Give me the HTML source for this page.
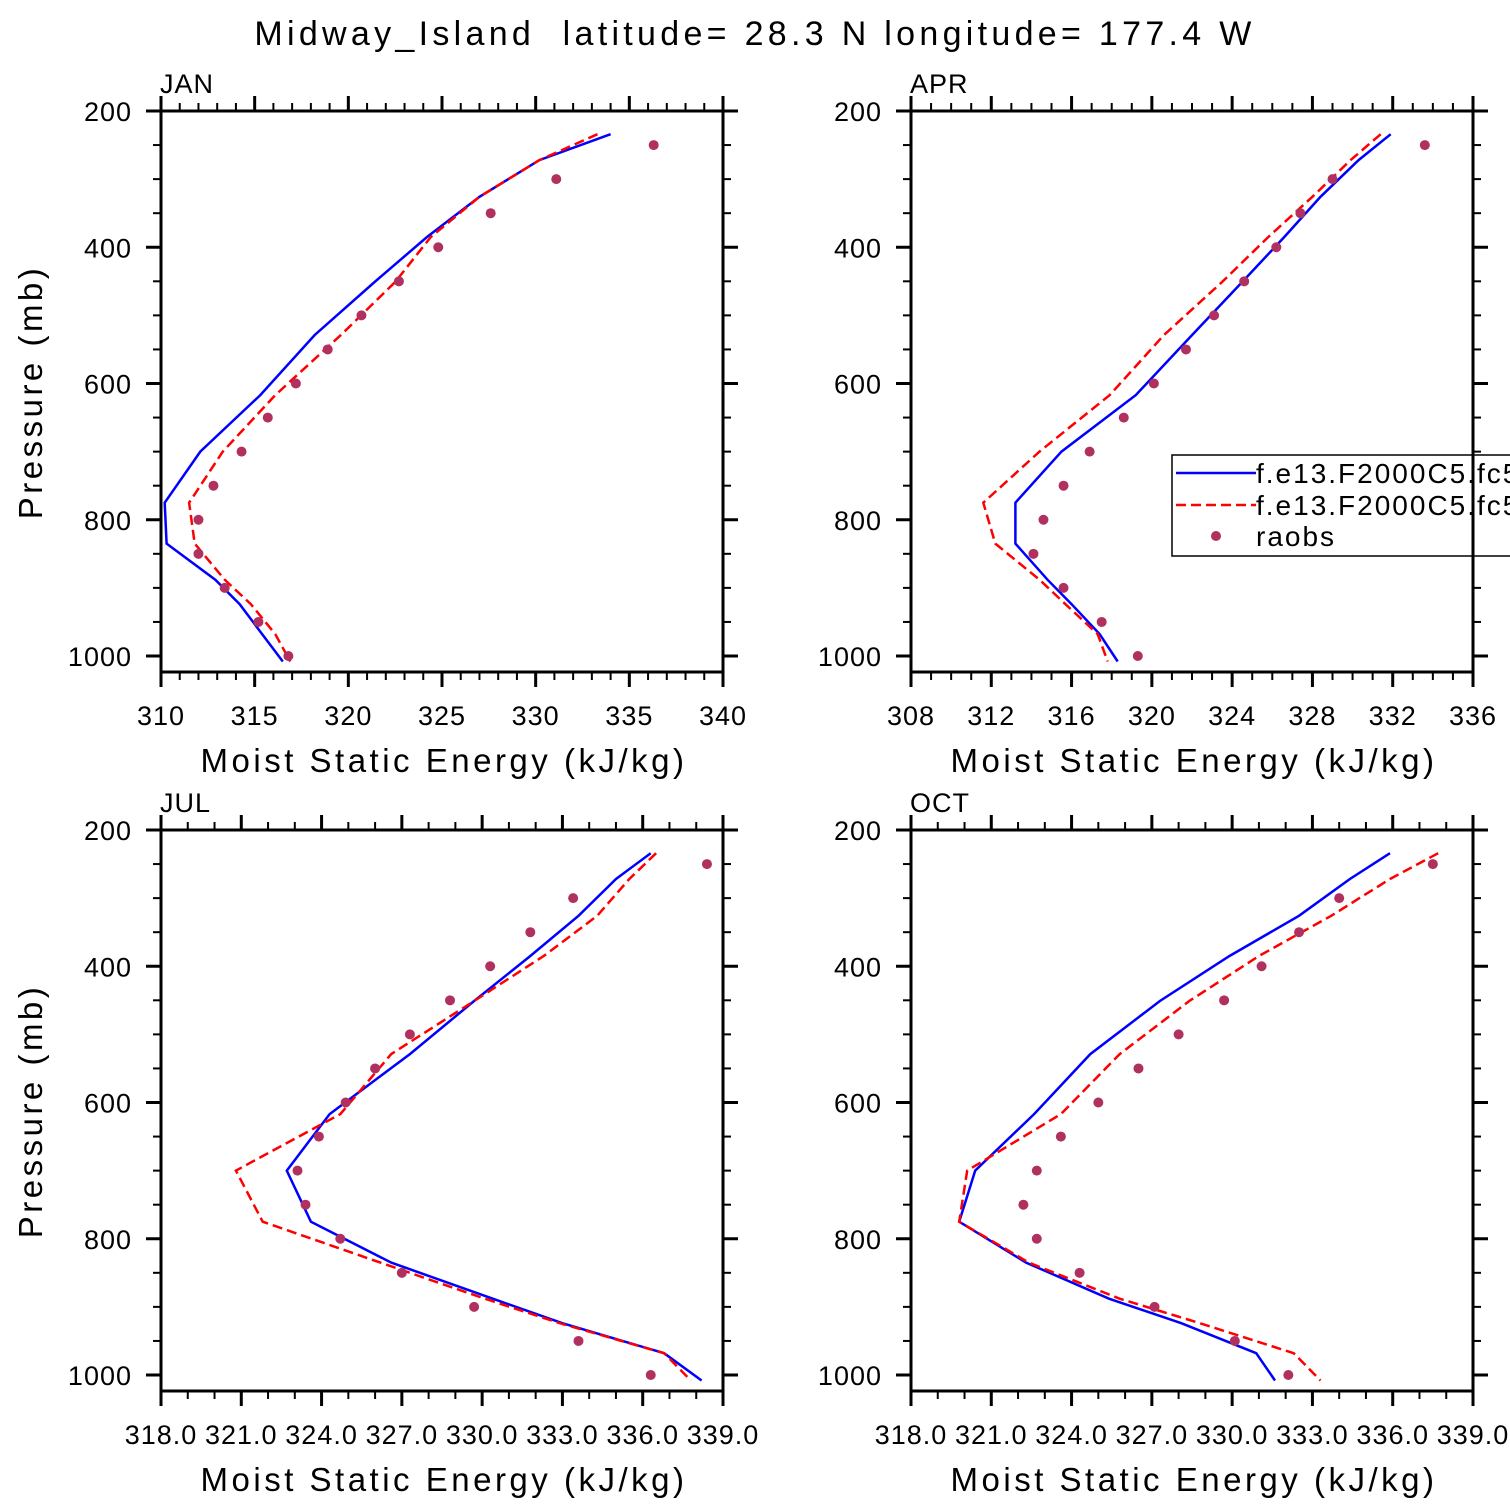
<!DOCTYPE html>
<html><head><meta charset="utf-8">
<style>
html,body{margin:0;padding:0;background:#fff;width:1510px;height:1510px;overflow:hidden}
svg{display:block}
text{font-family:"Liberation Sans","DejaVu Sans",sans-serif;fill:#000;white-space:pre}
</style></head>
<body>
<svg id="chart" width="1510" height="1510" viewBox="0 0 1510 1510" xmlns="http://www.w3.org/2000/svg">
<text x="755" y="45" text-anchor="middle" font-size="34" letter-spacing="4.3" xml:space="preserve">Midway_Island  latitude= 28.3 N longitude= 177.4 W</text>
</svg>
<script>
const modelP = [234,272,326,385,451,529,617,700,775,835,888,924,968,1008];
const obsP = [250,300,350,400,450,500,550,600,650,700,750,800,850,900,950,1000];
const yTicks = [200,400,600,800,1000];

const janBlue = [334.0,330.2,327.0,324.2,321.4,318.2,315.3,312.1,310.2,310.3,312.9,314.2,315.4,316.5];
const janRed  = [333.3,330.2,327.0,324.4,322.5,319.6,316.1,313.3,311.5,311.8,313.4,314.8,316.1,316.9];
const janObs  = [336.3,331.1,327.6,324.8,322.7,320.7,318.9,317.2,315.7,314.3,312.8,312.0,312.0,313.4,315.2,316.8];
const janXTicks = [310,315,320,325,330,335,340];

const aprBlue = [331.9,330.3,328.4,326.6,324.5,322.0,319.2,315.5,313.2,313.2,314.8,316.0,317.4,318.3];
const aprRed  = [331.4,329.9,328.0,325.8,323.5,320.6,317.9,314.4,311.6,312.2,314.4,315.7,317.3,317.8];
const aprObs  = [333.6,329.0,327.4,326.2,324.6,323.1,321.7,320.1,318.6,316.9,315.6,314.6,314.1,315.6,317.5,319.3];
const aprXTicks = [308,312,316,320,324,328,332,336];

const julBlue = [336.3,335.0,333.6,331.8,329.7,327.3,324.3,322.7,323.6,326.6,330.4,333.0,336.8,338.2];
const julRed  = [336.5,335.5,334.3,332.3,329.7,326.6,324.7,320.8,321.8,326.2,330.1,332.9,336.8,337.8];
const julObs  = [338.4,333.4,331.8,330.3,328.8,327.3,326.0,324.9,323.9,323.1,323.4,324.7,327.0,329.7,333.6,336.3];
const julXTicks = [318,321,324,327,330,333,336,339];

const octBlue = [335.9,334.4,332.5,329.9,327.3,324.7,322.6,320.4,319.8,322.3,325.4,328.1,330.9,331.6];
const octRed  = [337.7,335.9,333.7,331.0,328.4,325.8,323.6,320.1,319.8,322.4,325.8,328.8,332.3,333.3];
const octObs  = [337.5,334.0,332.5,331.1,329.7,328.0,326.5,325.0,323.6,322.7,322.2,322.7,324.3,327.1,330.1,332.1];
const octXTicks = [318,321,324,327,330,333,336,339];

const NS='http://www.w3.org/2000/svg';
const svg=document.getElementById('chart');
function mk(tag,attrs,parent){const e=document.createElementNS(NS,tag);for(const k in attrs)e.setAttribute(k,attrs[k]);(parent||svg).appendChild(e);return e;}

function panel(name,x0,y0,xmin,xmax,xTicks,minorStep,labelFmt,blue,red,obs,showY){
  const W=562,H=561,yTop=y0,x1=x0+W,yBot=y0+H;
  const xs=v=>x0+(v-xmin)/(xmax-xmin)*W;
  const ys=p=>yTop+(p-200)*0.68125;
  const g=mk('g',{});
  
  
  const t=mk('text',{x:x0-1,y:yTop-18,'font-size':27,'letter-spacing':1},g);t.textContent=name;
  
  
  const clip=mk('clipPath',{id:'c'+name},g);mk('rect',{x:x0,y:yTop,width:W,height:H},clip);
  const sg=mk('g',{'clip-path':'url(#c'+name+')'},g);
  const pts=a=>a.map((v,i)=>xs(v).toFixed(1)+','+ys(modelP[i]).toFixed(1)).join(' ');
  const b=mk('polyline',{points:pts(blue),fill:'none',stroke:'#0000ff','stroke-width':2.5},sg);
  
  
  const r=mk('polyline',{points:pts(red),fill:'none',stroke:'#ff0000','stroke-width':2.5,'stroke-dasharray':'10,5'},sg);
  
  
  obs.forEach((v,i)=>{const c=mk('circle',{cx:xs(v),cy:ys(obsP[i]),r:5,fill:'#b03060'},g);
    
    });
  const ax=mk('g',{stroke:'#000','stroke-width':3,fill:'none'},g);
  
  
  mk('rect',{x:x0,y:yTop,width:W,height:H},ax);
  const tk=(xa,ya,xb,yb,w)=>mk('line',{x1:xa,y1:ya,x2:xb,y2:yb,'stroke-width':w},ax);
  for(let v=xmin;v<=xmax+1e-6;v+=minorStep){const x=xs(v);tk(x,yTop,x,yTop-8,2);tk(x,yBot,x,yBot+8,2);}
  xTicks.forEach(v=>{const x=xs(v);tk(x,yTop,x,yTop-15,3);tk(x,yBot,x,yBot+15,3);
    const l=mk('text',{x:x,y:yBot+53,'font-size':27,'text-anchor':'middle','letter-spacing':1},g);l.textContent=labelFmt(v);
    
    });
  for(let p=250;p<=1000;p+=50){const y=ys(p);tk(x0,y,x0-8,y,2);tk(x1,y,x1+8,y,2);}
  yTicks.forEach(p=>{const y=ys(p);tk(x0,y,x0-15,y,3);tk(x1,y,x1+15,y,3);
    const l=mk('text',{x:x0-29,y:y+10,'font-size':27,'text-anchor':'end','letter-spacing':1},g);l.textContent=p;
    
    });
  const xt=mk('text',{x:x0+W/2+2,y:yBot+100,'font-size':33,'text-anchor':'middle','letter-spacing':3.5},g);
  xt.textContent='Moist Static Energy (kJ/kg)';
  
  
  if(showY){const yt=mk('text',{x:0,y:0,'font-size':33,'text-anchor':'middle','letter-spacing':3.5,transform:'translate(42,'+(yTop+281)+') rotate(-90)'},g);
    yt.textContent='Pressure (mb)';
    
    }
  return g;
}
const f0=v=>String(v), f1=v=>v.toFixed(1);
panel('JAN',161,111,310,340,janXTicks,1,f0,janBlue,janRed,janObs,true);
panel('APR',911,111,308,336,aprXTicks,1,f0,aprBlue,aprRed,aprObs,false);
panel('JUL',161,830,318,339,julXTicks,1,f1,julBlue,julRed,julObs,true);
panel('OCT',911,830,318,339,octXTicks,1,f1,octBlue,octRed,octObs,false);

const lg=mk('g',{});


mk('rect',{x:1172,y:455,width:360,height:101,fill:'#fff',stroke:'#000','stroke-width':1.5},lg);
mk('line',{x1:1176,y1:473,x2:1256,y2:473,stroke:'#0000ff','stroke-width':2.5},lg);
mk('line',{x1:1176,y1:505,x2:1256,y2:505,stroke:'#ff0000','stroke-width':2.5,'stroke-dasharray':'10,5'},lg);
mk('circle',{cx:1216,cy:536,r:5,fill:'#b03060'},lg);
[['f.e13.F2000C5.fc5',483],['f.e13.F2000C5.fc5',515],['raobs',546]].forEach(([s,y])=>{
  const t=mk('text',{x:1256,y:y,'font-size':28,'letter-spacing':2},lg);t.textContent=s;
  
  });
mk('line',{x1:1473,y1:455,x2:1473,y2:556,stroke:'#000','stroke-width':3},lg);
</script>
</body></html>
